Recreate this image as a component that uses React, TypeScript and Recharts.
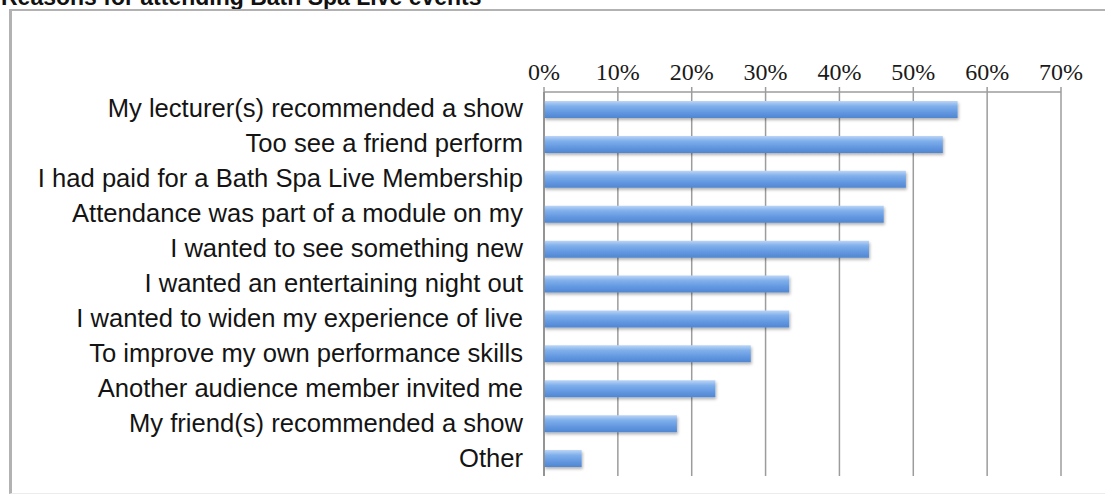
import React from 'react';
import { BarChart, Bar, XAxis, YAxis, CartesianGrid } from 'recharts';

// Reasons for attending, top to bottom as shown
const categories = [
  'My lecturer(s) recommended a show',
  'Too see a friend perform',
  'I had paid for a Bath Spa Live Membership',
  'Attendance was part of a module on my',
  'I wanted to see something new',
  'I wanted an entertaining night out',
  'I wanted to widen my experience of live',
  'To improve my own performance skills',
  'Another audience member invited me',
  'My friend(s) recommended a show',
  'Other',
];

// share of respondents, in percent
const percentages = [56, 54, 49, 46, 44, 33.2, 33.2, 28, 23.2, 18, 5.1];

const percentTicks = [0, 10, 20, 30, 40, 50, 60, 70];

// band edges for the small marks on the category axis
const bandEdges = [0, 1, 2, 3, 4, 5, 6, 7, 8, 9, 10, 11];

const GRID = '#9c9c9c';

const chartData = categories.map((label, i) => ({ label, value: percentages[i] }));

const CategoryTick = (props: any) => {
  const { x, y, payload } = props;
  return (
    <text
      x={x}
      y={y}
      dy={8}
      textAnchor="end"
      fill="#141414"
      fontSize={25.6}
      fontFamily="'Liberation Sans', Arial, sans-serif"
    >
      {payload.value}
    </text>
  );
};

const App: React.FC = () => {
  return (
    <div style={{ position: 'absolute', left: 0, top: 0, width: 1105, height: 494, background: '#fff', overflow: 'hidden' }}>
      <svg width={1105} height={20} style={{ position: 'absolute', left: 0, top: 0 }}>
        <text x={1} y={5} fontSize={23} fontWeight="bold" fill="#111" fontFamily="'Liberation Sans', Arial, sans-serif">
          Reasons for attending Bath Spa Live events
        </text>
      </svg>
      <div
        style={{
          position: 'absolute',
          left: 9,
          top: 9,
          width: 1120,
          height: 482,
          borderTop: '2px solid #b2b2b2',
          borderLeft: '3px solid #b2b2b2',
          borderBottom: '1px solid #ececec',
        }}
      />
      <div style={{ position: 'absolute', left: 0, top: 0 }}>
        <BarChart
          width={1105}
          height={494}
          data={chartData}
          layout="vertical"
          margin={{ top: 52, right: 44, bottom: 18, left: 0 }}
        >
          <defs>
            <linearGradient id="barFill" x1="0" y1="0" x2="0" y2="1">
              <stop offset="0%" stopColor="#bcd5f6" />
              <stop offset="30%" stopColor="#7fafeb" />
              <stop offset="65%" stopColor="#6499e1" />
              <stop offset="100%" stopColor="#5086d1" />
            </linearGradient>
            <filter id="barShadow" x="-5%" y="-40%" width="112%" height="200%">
              <feDropShadow dx="1" dy="2" stdDeviation="1.5" floodColor="#000" floodOpacity="0.3" />
            </filter>
          </defs>
          <CartesianGrid horizontal={false} stroke={GRID} strokeWidth={1.5} yAxisId="cat" />
          <XAxis
            type="number"
            orientation="top"
            domain={[0, 70]}
            ticks={percentTicks}
            interval={0}
            tickFormatter={(v: number) => `${v}%`}
            height={40}
            tickSize={5}
            tickMargin={7}
            axisLine={{ stroke: GRID, strokeWidth: 1.5 }}
            tickLine={{ stroke: GRID, strokeWidth: 1.5 }}
            tick={{ fill: '#1a1a1a', fontSize: 24, fontFamily: "'Liberation Serif', 'Times New Roman', serif" }}
          />
          <YAxis
            yAxisId="edges"
            type="number"
            domain={[0, categories.length]}
            ticks={bandEdges}
            interval={0}
            width={0}
            tickSize={6}
            axisLine={false}
            tickLine={{ stroke: '#8a8a8a', strokeWidth: 1.5 }}
            tick={() => <g />}
          />
          <YAxis
            yAxisId="cat"
            type="category"
            dataKey="label"
            width={544}
            interval={0}
            tickSize={0}
            tickMargin={21}
            tickLine={false}
            axisLine={{ stroke: '#8a8a8a', strokeWidth: 1.5 }}
            tick={<CategoryTick />}
          />
          <Bar
            dataKey="value"
            yAxisId="cat"
            barSize={17}
            fill="url(#barFill)"
            filter="url(#barShadow)"
            isAnimationActive={false}
          />
        </BarChart>
      </div>
    </div>
  );
};

export default App;
